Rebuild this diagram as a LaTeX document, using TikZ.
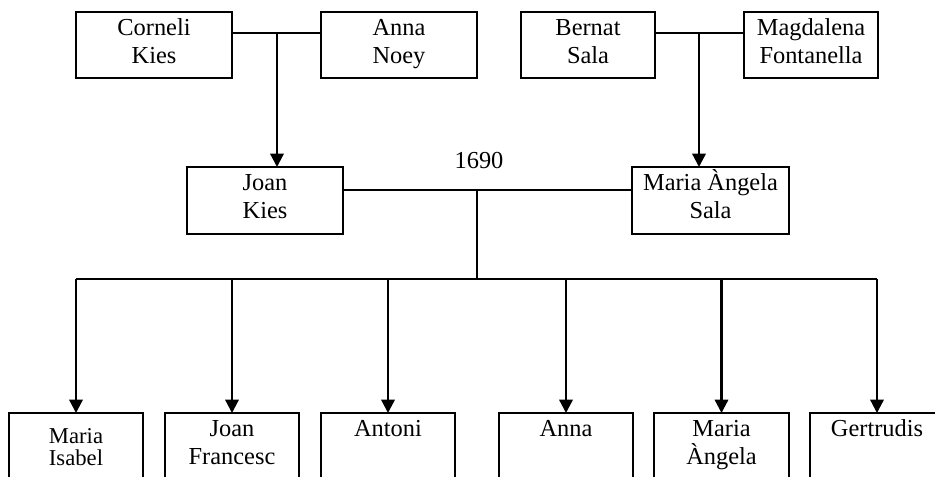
\documentclass[tikz,border=0pt]{standalone}
\usepackage{fontspec}
\setmainfont{Liberation Serif}
\usetikzlibrary{arrows.meta}
\newlength\px
\setlength\px{0.75pt}
\newcommand\ptext[3]{\parbox[c][#2\px][t]{#1\px}{\fontsize{18.3pt}{21pt}\selectfont\centering\rule{0pt}{23\px}#3}}
\newcommand\ptextsmall[3]{\parbox[c][#2\px][t]{#1\px}{\fontsize{17pt}{16.8pt}\selectfont\centering\rule{0pt}{30\px}#3}}
\tikzset{
  person/.style={draw, line width=1.3pt, inner sep=0pt, outer sep=0pt, anchor=north west},
  link/.style={line width=1.3pt},
  desc/.style={line width=1.7pt, -{Triangle[length=10pt,width=10pt]}},
}
\begin{document}
\begin{tikzpicture}[x=0.75pt,y=-0.75pt]
\useasboundingbox (0,0) rectangle (935,476);
\clip (0,0) rectangle (935,476);
% grandparents
\node[person] (ck) at (76,12) {\ptext{156}{66}{Corneli\\Kies}};
\node[person] (an) at (321,12) {\ptext{156}{66}{Anna\\Noey}};
\node[person] (bs) at (521,12) {\ptext{134}{66}{Bernat\\Sala}};
\node[person] (mf) at (744,12) {\ptext{134}{66}{Magdalena\\Fontanella}};
% parents
\node[person] (jk) at (187,167) {\ptext{156}{67}{Joan\\Kies}};
\node[person] (ma) at (632,167) {\ptext{157}{67}{Maria Àngela\\Sala}};
\node[anchor=base, inner sep=0pt, font=\fontsize{18.3pt}{21pt}\selectfont] (yr) at (479,168) {1690};
% children
\node[person] (c1) at (9,413) {\ptextsmall{134}{67}{Maria\\Isabel}};
\node[person] (c2) at (165,413) {\ptext{134}{67}{Joan\\Francesc}};
\node[person] (c3) at (321,413) {\ptext{134}{67}{Antoni}};
\node[person] (c4) at (499,413) {\ptext{134}{67}{Anna}};
\node[person] (c5) at (654,413) {\ptext{135}{67}{Maria\\Àngela}};
\node[person] (c6) at (810,413) {\ptext{134}{67}{Gertrudis}};
% junctions
\coordinate (m1) at (277,33);
\coordinate (m2) at (699,33);
\coordinate (m3) at (477,190);
\coordinate (bar) at (477,279);
% marriages
\draw[link] (ck.east |- m1) -- (an.west |- m1);
\draw[link] (bs.east |- m2) -- (mf.west |- m2);
\draw[link] (jk.east |- m3) -- (ma.west |- m3);
% descent
\draw[desc] (m1) -- (m1 |- jk.north);
\draw[desc] (m2) -- (m2 |- ma.north);
\draw[link] (m3) -- (bar);
\draw[link] (c1.north |- bar) -- (c6.north |- bar);
\foreach \c in {c1,c2,c3,c4,c5,c6}
  \draw[desc] (\c.north |- bar) -- (\c.north);
\end{tikzpicture}
\end{document}
